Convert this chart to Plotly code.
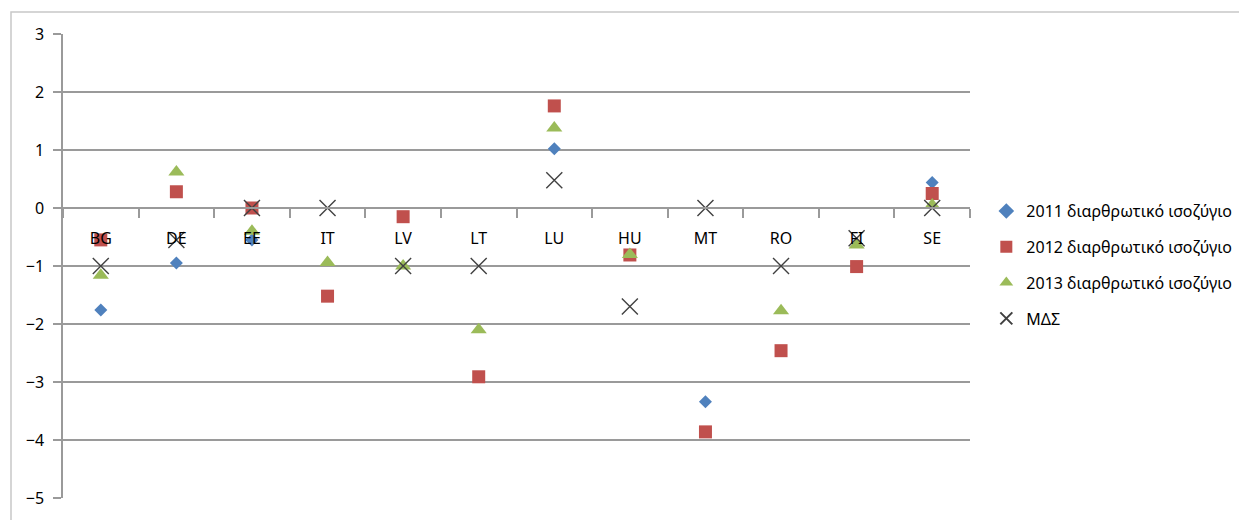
import plotly.graph_objects as go

countries = ["BG", "DE", "EE", "IT", "LV", "LT", "LU", "HU", "MT", "RO", "FI", "SE"]
s2011 = [-1.76, -0.95, -0.55, None, None, None, 1.02, None, -3.34, None, None, 0.44]
s2012 = [-0.55, 0.28, 0.0, -1.52, -0.15, -2.91, 1.76, -0.81, -3.86, -2.46, -1.01, 0.25]
s2013 = [-1.16, 0.62, -0.4, -0.94, -1.0, -2.1, 1.38, -0.8, None, -1.77, -0.64, 0.05]
mds = [-1.0, -0.55, 0.0, 0.0, -1.0, -1.0, 0.48, -1.7, 0.0, -1.0, -0.52, 0.0]

names = ["2011 διαρθρωτικό ισοζύγιο", "2012 διαρθρωτικό ισοζύγιο",
         "2013 διαρθρωτικό ισοζύγιο", "ΜΔΣ"]

fig = go.Figure()
fig.add_trace(go.Scatter(x=countries, y=s2011, mode="markers", name=names[0], legendgroup="a",
                         marker=dict(symbol="diamond", size=10, color="#4F81BD")))
fig.add_trace(go.Scatter(x=countries, y=s2012, mode="markers", name=names[1], legendgroup="b",
                         marker=dict(symbol="square", size=13, color="#C0504D")))
fig.add_trace(go.Scatter(x=countries, y=s2013, mode="markers", name=names[2], legendgroup="c",
                         marker=dict(symbol="triangle-up", size=14, color="#9BBB59")))
fig.add_trace(go.Scatter(x=countries, y=mds, mode="markers", name=names[3], legendgroup="d",
                         marker=dict(symbol="x-thin", size=16, color="#404040",
                                     line=dict(width=1.4, color="#404040"))))

font = "Noto Sans, DejaVu Sans, sans-serif"
L, R, T, B = 55, 285, 26, 30
H = 520 - T - B
W = 1247 - L - R
fig.update_layout(
    width=1247, height=520,
    margin=dict(l=L, r=R, t=T, b=B),
    paper_bgcolor="white", plot_bgcolor="white",
    font=dict(family=font, size=16, color="#000000"),
    showlegend=True,
    legend=dict(x=1.018, y=0.655, xanchor="left", yanchor="top",
                font=dict(family=font, size=16, color="#000000"),
                traceorder="grouped", tracegroupgap=12, itemsizing="constant", itemwidth=30,
                bgcolor="rgba(0,0,0,0)"),
    xaxis=dict(type="category", range=[-0.5, 11.5], anchor="free", position=0.625,
               showline=True, linecolor="#9a9a9a", linewidth=1.5,
               ticks="outside", ticklen=9, tickcolor="#9a9a9a", tickwidth=1.5,
               tickson="boundaries", showgrid=False, zeroline=False,
               ticklabelstandoff=16,
               tickfont=dict(size=16, color="#000000"), layer="above traces"),
    yaxis=dict(range=[-5, 3], dtick=1, tick0=0, showgrid=True, gridcolor="#9a9a9a", gridwidth=1.5,
               zeroline=False, showline=True, linecolor="#9a9a9a", linewidth=1.5,
               ticks="outside", ticklen=8, tickcolor="#9a9a9a", tickwidth=1.5,
               ticklabelstandoff=6,
               tickfont=dict(size=16, color="#000000")),
    shapes=[dict(type="rect", xref="paper", yref="paper",
                 x0=(3 - L) / W, x1=(1262 - L) / W,
                 y0=(T + H - 530) / H, y1=(T + H - 4) / H,
                 line=dict(color="#c8c8c8", width=1.5), layer="below")],
)

fig.write_html("out.html")
